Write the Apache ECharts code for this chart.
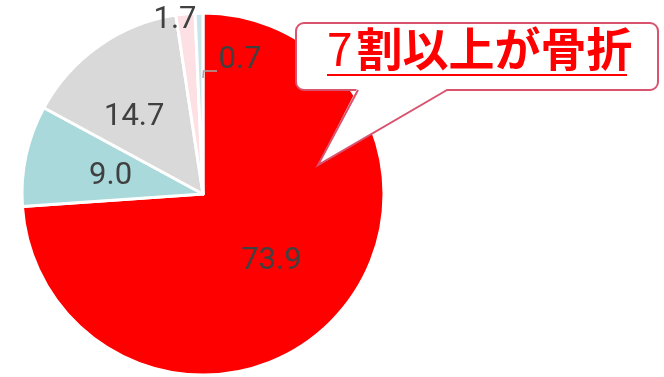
<!DOCTYPE html>
<html>
<head>
<meta charset="utf-8">
<script src="https://cdn.jsdelivr.net/npm/echarts@6/dist/echarts.min.js"></script>
<style>
  html, body { margin: 0; padding: 0; background: #fff; }
  #chart { width: 664px; height: 377px; }
</style>
</head>
<body>
<div id="chart"></div>
<script>
// Share of each category (%), drawn clockwise from 12 o'clock
const categories = ['骨折', '区分B', '区分C', '区分D', '区分E'];
const values = [73.9, 9.0, 14.7, 1.7, 0.7];
const sliceColors = ['#FF0000', '#A9D9DA', '#D9D9D9', '#FCE0E4', '#C8E6E9'];
const calloutText = ['7', '割以上が骨折'];

const chart = echarts.init(document.getElementById('chart'), null, { renderer: 'canvas' });

// Nudges for the inside labels, relative to where the pie puts them
const labelShift = { 0: [0, 3], 1: [-1, 2], 2: [-15, 0] };
// The two thin slices carry their labels above / beside the pie
const outerLabelAt = { 3: [175, 20], 4: [240, 60] };

const data = categories.map((name, i) => ({
  name,
  value: values[i],
  itemStyle: { color: sliceColors[i] },
  label: { position: i >= 3 ? 'outside' : 'inside' }
}));

chart.setOption({
  animation: false,
  series: [{
    type: 'pie',
    center: [203, 194],
    radius: 181,
    startAngle: 90,
    clockwise: true,
    avoidLabelOverlap: false,
    itemStyle: { borderColor: '#ffffff', borderWidth: 3 },
    label: {
      position: 'outside',
      color: '#404040',
      fontSize: 31,
      fontFamily: 'Roboto',
      formatter: p => p.value.toFixed(1)
    },
    labelLine: { show: false },
    labelLayout: function (p) {
      const at = outerLabelAt[p.dataIndex];
      if (at) {
        return { x: at[0], y: at[1], align: 'center', verticalAlign: 'middle' };
      }
      const s = labelShift[p.dataIndex];
      return s ? { dx: s[0], dy: s[1] } : {};
    },
    data
  }],
  graphic: [
    // elbow leader tying the "0.7" label to its thin slice
    {
      type: 'polyline',
      shape: { points: [[203, 78], [203.5, 71], [217, 71]] },
      style: { stroke: '#A6A6A6', lineWidth: 1.5, fill: null },
      z: 5
    },
    {
      type: 'rect',
      shape: { x: 296, y: 23, width: 362, height: 67, r: 8 },
      style: { fill: '#ffffff', stroke: '#D9536F', lineWidth: 2 },
      z: 10
    },
    {
      type: 'polygon',
      shape: { points: [[357, 88.5], [318, 165], [448, 88.5]] },
      style: { fill: '#ffffff' },
      z: 11
    },
    {
      type: 'polyline',
      shape: { points: [[358, 90], [318, 165], [447, 90]] },
      style: { stroke: '#D9536F', lineWidth: 2, fill: null },
      z: 12
    },
    {
      type: 'text',
      x: 327, y: 49,
      style: {
        text: '{a|' + calloutText[0] + '}{b|' + calloutText[1] + '}',
        verticalAlign: 'middle',
        rich: {
          a: { fontSize: 46, fontFamily: 'Noto Sans CJK JP', fontWeight: 'normal', fill: '#FF0000', padding: [0, 4, 0, 0] },
          b: { fontSize: 46, fontFamily: 'Noto Sans CJK JP', fontWeight: 'bold', fill: '#FF0000' }
        }
      },
      z: 13
    },
    {
      type: 'line',
      shape: { x1: 327, y1: 75, x2: 627, y2: 75 },
      style: { stroke: '#FF0000', lineWidth: 2 },
      z: 13
    }
  ]
});
</script>
</body>
</html>
